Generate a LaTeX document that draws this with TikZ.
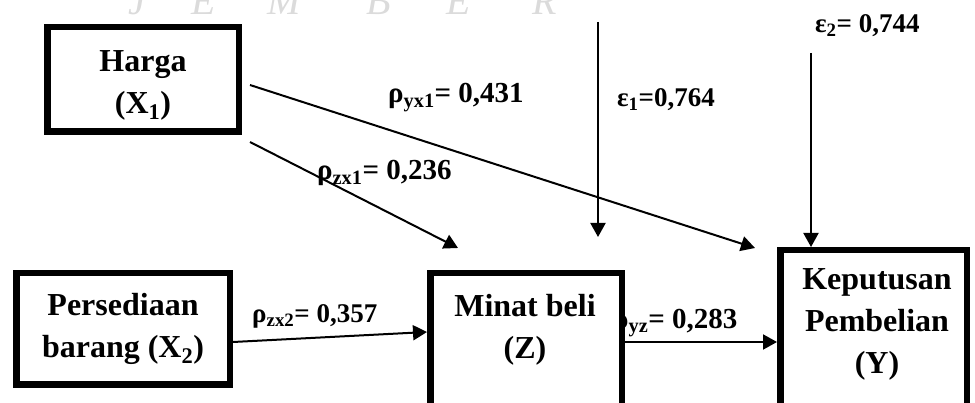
\documentclass[tikz,border=0pt]{standalone}
\usepackage{fontspec}
\setmainfont{Liberation Serif}
\usetikzlibrary{arrows.meta}

\begin{document}
\begin{tikzpicture}[x=1pt, y=-1pt,
  kotak/.style={draw=black, line width=6.5pt, fill=white, inner sep=0pt, align=center, font=\fontsize{32}{42}\selectfont\bfseries},
  isi/.style={align=center, inner sep=0pt, font=\fontsize{32}{42}\selectfont\bfseries},
  koef/.style={inner sep=0pt, font=\fontsize{27}{30}\selectfont\bfseries},
  koefbesar/.style={inner sep=0pt, font=\fontsize{29}{32}\selectfont\bfseries},
  panah/.style={-{Triangle[length=14pt,width=15pt]}, line width=2pt},
  tanda/.style={text=black!14, inner sep=0pt, font=\fontsize{40}{40}\selectfont\itshape}]
\useasboundingbox (0,0) rectangle (975,403);
% faint watermark at the top
\foreach \h/\xx [count=\i] in {J/137, E/204, M/284, B/379, E/459, R/545}
  \node[tanda, anchor=base] (wm\i) at (\xx,15) {\h};

% the two exogenous boxes
\node[kotak, minimum width=191.5pt, minimum height=104.5pt] (harga) at (143,79.5) {};
\node[isi] (hargateks) at (143,85) {Harga\\(X\textsubscript{1})};
\node[kotak, minimum width=213.5pt, minimum height=111.5pt] (sedia) at (123,329) {Persediaan\\barang (X\textsubscript{2})};

% path coefficients
\node[koefbesar, anchor=base west] (lyx1) at (388,103) {ρ\textsubscript{yx1}= 0,431};
\node[koefbesar, anchor=base west] (lzx1) at (317,180) {ρ\textsubscript{zx1}= 0,236};
\node[koef, anchor=base west] (le1) at (617,107) {ε\textsubscript{1}=0,764};
\node[koef, anchor=base west] (le2) at (815,33) {ε\textsubscript{2}= 0,744};
\node[koef, anchor=base west] (lzx2) at (252,323) {ρ\textsubscript{zx2}= 0,357};
\node[koefbesar, anchor=base west] (lyz) at (613,329) {ρ\textsubscript{yz}= 0,283};

% Minat beli and Keputusan, cut at the bottom
\node[kotak, minimum width=191.5pt, minimum height=200pt, anchor=north] (minat) at (526,270) {};
\node[isi] (minatteks) at (525,330) {Minat beli\\(Z)};
\node[kotak, minimum width=186.5pt, minimum height=220pt, anchor=north] (putus) at (873.5,247) {};
\node[isi] (putusteks) at (877,324) {Keputusan\\Pembelian\\(Y)};

% arrows from Harga
\coordinate (a1) at (250,85);
\coordinate (a2) at (755,248);
\draw[panah] (a1) -- (a2);
\coordinate (b1) at (250,142);
\coordinate (b2) at (458,248);
\draw[panah] (b1) -- (b2);
% error terms
\coordinate (e1) at (598,22);
\coordinate (e1u) at (598,237);
\draw[panah] (e1) -- (e1u);
\coordinate (e2) at (811,53);
\draw[panah] (e2) -- (e2 |- putus.north);
% horizontal arrows
\draw[panah] (sedia.east |- 0,342) -- (minat.west |- 0,332);
\draw[panah] (minat.east |- 0,342) -- (putus.west |- 0,342);
\end{tikzpicture}
\end{document}
